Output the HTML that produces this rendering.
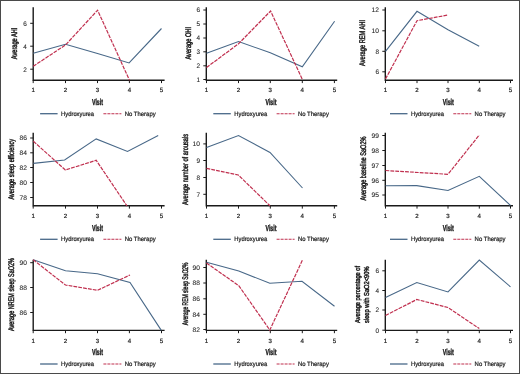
<!DOCTYPE html>
<html><head><meta charset="utf-8"><style>
html,body{margin:0;padding:0;background:#fff;}
body{width:520px;height:374px;overflow:hidden;}
svg{display:block;will-change:transform;}
text{font-family:"Liberation Sans", sans-serif;fill:#222;text-rendering:geometricPrecision;}
</style></head><body>
<svg width="520" height="374" viewBox="0 0 520 374">
<rect x="0" y="0" width="520" height="374" fill="#fff"/>
<path d="M33.2,7.3 V80.3 H164.6" fill="none" stroke="#1a1a1a" stroke-width="1.4"/>
<path d="M30.2,23.3 H33.2" stroke="#1a1a1a" stroke-width="1"/>
<text x="26.9" y="25.6" font-size="6.6" text-anchor="end" font-weight="normal" textLength="3.55" lengthAdjust="spacingAndGlyphs" stroke="#333" stroke-width="0.1">6</text>
<path d="M30.2,46.2 H33.2" stroke="#1a1a1a" stroke-width="1"/>
<text x="26.9" y="48.5" font-size="6.6" text-anchor="end" font-weight="normal" textLength="3.55" lengthAdjust="spacingAndGlyphs" stroke="#333" stroke-width="0.1">4</text>
<path d="M30.2,69.2 H33.2" stroke="#1a1a1a" stroke-width="1"/>
<text x="26.9" y="71.5" font-size="6.6" text-anchor="end" font-weight="normal" textLength="3.55" lengthAdjust="spacingAndGlyphs" stroke="#333" stroke-width="0.1">2</text>
<path d="M33.2,80.3 V83.1" stroke="#1a1a1a" stroke-width="1"/>
<text x="33.2" y="91.9" font-size="6.1" text-anchor="middle" font-weight="normal" stroke="#222" stroke-width="0.2">1</text>
<path d="M65.5,80.3 V83.1" stroke="#1a1a1a" stroke-width="1"/>
<text x="65.5" y="91.9" font-size="6.1" text-anchor="middle" font-weight="normal" stroke="#222" stroke-width="0.2">2</text>
<path d="M97.5,80.3 V83.1" stroke="#1a1a1a" stroke-width="1"/>
<text x="97.5" y="91.9" font-size="6.1" text-anchor="middle" font-weight="normal" stroke="#222" stroke-width="0.2">3</text>
<path d="M129.4,80.3 V83.1" stroke="#1a1a1a" stroke-width="1"/>
<text x="129.4" y="91.9" font-size="6.1" text-anchor="middle" font-weight="normal" stroke="#222" stroke-width="0.2">4</text>
<path d="M161.5,80.3 V83.1" stroke="#1a1a1a" stroke-width="1"/>
<text x="161.5" y="91.9" font-size="6.1" text-anchor="middle" font-weight="normal" stroke="#222" stroke-width="0.2">5</text>
<g transform="translate(17.4,43.4) rotate(-90)"><text x="0" y="0" font-size="8.2" text-anchor="middle" font-weight="normal" textLength="31.5" lengthAdjust="spacingAndGlyphs" stroke="#1a1a1a" stroke-width="0.45">Average AHI</text></g>
<polyline points="33.2,53.3 65.5,44.3 97.5,53.5 129.1,63 161.5,28.5" fill="none" stroke="#486888" stroke-width="1.1" stroke-linejoin="miter"/>
<polyline points="33.2,66.3 65.5,45 97.6,10.2 129.5,80.3" fill="none" stroke="#c0304f" stroke-width="1.2" stroke-dasharray="3.8,1.1"/>
<path d="M206.3,7.3 V80.3 H337.2" fill="none" stroke="#1a1a1a" stroke-width="1.4"/>
<path d="M203.3,10 H206.3" stroke="#1a1a1a" stroke-width="1"/>
<text x="200.0" y="12.3" font-size="6.6" text-anchor="end" font-weight="normal" textLength="3.55" lengthAdjust="spacingAndGlyphs" stroke="#333" stroke-width="0.1">6</text>
<path d="M203.3,24 H206.3" stroke="#1a1a1a" stroke-width="1"/>
<text x="200.0" y="26.3" font-size="6.6" text-anchor="end" font-weight="normal" textLength="3.55" lengthAdjust="spacingAndGlyphs" stroke="#333" stroke-width="0.1">5</text>
<path d="M203.3,38 H206.3" stroke="#1a1a1a" stroke-width="1"/>
<text x="200.0" y="40.3" font-size="6.6" text-anchor="end" font-weight="normal" textLength="3.55" lengthAdjust="spacingAndGlyphs" stroke="#333" stroke-width="0.1">4</text>
<path d="M203.3,51.8 H206.3" stroke="#1a1a1a" stroke-width="1"/>
<text x="200.0" y="54.1" font-size="6.6" text-anchor="end" font-weight="normal" textLength="3.55" lengthAdjust="spacingAndGlyphs" stroke="#333" stroke-width="0.1">3</text>
<path d="M203.3,65.8 H206.3" stroke="#1a1a1a" stroke-width="1"/>
<text x="200.0" y="68.1" font-size="6.6" text-anchor="end" font-weight="normal" textLength="3.55" lengthAdjust="spacingAndGlyphs" stroke="#333" stroke-width="0.1">2</text>
<path d="M203.3,79.5 H206.3" stroke="#1a1a1a" stroke-width="1"/>
<text x="200.0" y="81.8" font-size="6.6" text-anchor="end" font-weight="normal" textLength="3.55" lengthAdjust="spacingAndGlyphs" stroke="#333" stroke-width="0.1">1</text>
<path d="M206.5,80.3 V83.1" stroke="#1a1a1a" stroke-width="1"/>
<text x="206.5" y="91.9" font-size="6.1" text-anchor="middle" font-weight="normal" stroke="#222" stroke-width="0.2">1</text>
<path d="M238.5,80.3 V83.1" stroke="#1a1a1a" stroke-width="1"/>
<text x="238.5" y="91.9" font-size="6.1" text-anchor="middle" font-weight="normal" stroke="#222" stroke-width="0.2">2</text>
<path d="M270.3,80.3 V83.1" stroke="#1a1a1a" stroke-width="1"/>
<text x="270.3" y="91.9" font-size="6.1" text-anchor="middle" font-weight="normal" stroke="#222" stroke-width="0.2">3</text>
<path d="M302.3,80.3 V83.1" stroke="#1a1a1a" stroke-width="1"/>
<text x="302.3" y="91.9" font-size="6.1" text-anchor="middle" font-weight="normal" stroke="#222" stroke-width="0.2">4</text>
<path d="M334.4,80.3 V83.1" stroke="#1a1a1a" stroke-width="1"/>
<text x="334.4" y="91.9" font-size="6.1" text-anchor="middle" font-weight="normal" stroke="#222" stroke-width="0.2">5</text>
<g transform="translate(190.5,43.3) rotate(-90)"><text x="0" y="0" font-size="8.2" text-anchor="middle" font-weight="normal" textLength="32.6" lengthAdjust="spacingAndGlyphs" stroke="#1a1a1a" stroke-width="0.45">Average OHI</text></g>
<polyline points="206.5,53.3 238.5,41.5 270.3,52.8 302.3,66.7 334.6,21.2" fill="none" stroke="#486888" stroke-width="1.1" stroke-linejoin="miter"/>
<polyline points="206.5,67.5 238.5,43.8 270.6,11 302.3,79.3" fill="none" stroke="#c0304f" stroke-width="1.2" stroke-dasharray="3.8,1.1"/>
<path d="M385.3,7.3 V80.3 H513" fill="none" stroke="#1a1a1a" stroke-width="1.4"/>
<path d="M382.3,10 H385.3" stroke="#1a1a1a" stroke-width="1"/>
<text x="379.0" y="12.3" font-size="6.6" text-anchor="end" font-weight="normal" textLength="7.4" lengthAdjust="spacingAndGlyphs" stroke="#333" stroke-width="0.1">12</text>
<path d="M382.3,30.8 H385.3" stroke="#1a1a1a" stroke-width="1"/>
<text x="379.0" y="33.1" font-size="6.6" text-anchor="end" font-weight="normal" textLength="7.4" lengthAdjust="spacingAndGlyphs" stroke="#333" stroke-width="0.1">10</text>
<path d="M382.3,51.3 H385.3" stroke="#1a1a1a" stroke-width="1"/>
<text x="379.0" y="53.6" font-size="6.6" text-anchor="end" font-weight="normal" textLength="3.55" lengthAdjust="spacingAndGlyphs" stroke="#333" stroke-width="0.1">8</text>
<path d="M382.3,71.8 H385.3" stroke="#1a1a1a" stroke-width="1"/>
<text x="379.0" y="74.1" font-size="6.6" text-anchor="end" font-weight="normal" textLength="3.55" lengthAdjust="spacingAndGlyphs" stroke="#333" stroke-width="0.1">6</text>
<path d="M385.5,80.3 V83.1" stroke="#1a1a1a" stroke-width="1"/>
<text x="385.5" y="91.9" font-size="6.1" text-anchor="middle" font-weight="normal" stroke="#222" stroke-width="0.2">1</text>
<path d="M417,80.3 V83.1" stroke="#1a1a1a" stroke-width="1"/>
<text x="417" y="91.9" font-size="6.1" text-anchor="middle" font-weight="normal" stroke="#222" stroke-width="0.2">2</text>
<path d="M448,80.3 V83.1" stroke="#1a1a1a" stroke-width="1"/>
<text x="448" y="91.9" font-size="6.1" text-anchor="middle" font-weight="normal" stroke="#222" stroke-width="0.2">3</text>
<path d="M479.3,80.3 V83.1" stroke="#1a1a1a" stroke-width="1"/>
<text x="479.3" y="91.9" font-size="6.1" text-anchor="middle" font-weight="normal" stroke="#222" stroke-width="0.2">4</text>
<path d="M510.5,80.3 V83.1" stroke="#1a1a1a" stroke-width="1"/>
<text x="510.5" y="91.9" font-size="6.1" text-anchor="middle" font-weight="normal" stroke="#222" stroke-width="0.2">5</text>
<g transform="translate(365.2,43) rotate(-90)"><text x="0" y="0" font-size="8.2" text-anchor="middle" font-weight="normal" textLength="46" lengthAdjust="spacingAndGlyphs" stroke="#1a1a1a" stroke-width="0.45">Average REM AHI</text></g>
<polyline points="385.5,51.3 417,11.3 448,29.8 479.2,46.2" fill="none" stroke="#486888" stroke-width="1.1" stroke-linejoin="miter"/>
<polyline points="385.5,79 417,20.7 448,15" fill="none" stroke="#c0304f" stroke-width="1.2" stroke-dasharray="3.8,1.1"/>
<path d="M33.2,132.7 V205.8 H164.6" fill="none" stroke="#1a1a1a" stroke-width="1.4"/>
<path d="M30.2,138 H33.2" stroke="#1a1a1a" stroke-width="1"/>
<text x="26.9" y="140.3" font-size="6.6" text-anchor="end" font-weight="normal" textLength="7.4" lengthAdjust="spacingAndGlyphs" stroke="#333" stroke-width="0.1">86</text>
<path d="M30.2,152.8 H33.2" stroke="#1a1a1a" stroke-width="1"/>
<text x="26.9" y="155.1" font-size="6.6" text-anchor="end" font-weight="normal" textLength="7.4" lengthAdjust="spacingAndGlyphs" stroke="#333" stroke-width="0.1">84</text>
<path d="M30.2,167.5 H33.2" stroke="#1a1a1a" stroke-width="1"/>
<text x="26.9" y="169.8" font-size="6.6" text-anchor="end" font-weight="normal" textLength="7.4" lengthAdjust="spacingAndGlyphs" stroke="#333" stroke-width="0.1">82</text>
<path d="M30.2,182.5 H33.2" stroke="#1a1a1a" stroke-width="1"/>
<text x="26.9" y="184.8" font-size="6.6" text-anchor="end" font-weight="normal" textLength="7.4" lengthAdjust="spacingAndGlyphs" stroke="#333" stroke-width="0.1">80</text>
<path d="M30.2,197.5 H33.2" stroke="#1a1a1a" stroke-width="1"/>
<text x="26.9" y="199.8" font-size="6.6" text-anchor="end" font-weight="normal" textLength="7.4" lengthAdjust="spacingAndGlyphs" stroke="#333" stroke-width="0.1">78</text>
<path d="M33.2,205.8 V208.6" stroke="#1a1a1a" stroke-width="1"/>
<text x="33.2" y="217.8" font-size="6.1" text-anchor="middle" font-weight="normal" stroke="#222" stroke-width="0.2">1</text>
<path d="M65.5,205.8 V208.6" stroke="#1a1a1a" stroke-width="1"/>
<text x="65.5" y="217.8" font-size="6.1" text-anchor="middle" font-weight="normal" stroke="#222" stroke-width="0.2">2</text>
<path d="M97.5,205.8 V208.6" stroke="#1a1a1a" stroke-width="1"/>
<text x="97.5" y="217.8" font-size="6.1" text-anchor="middle" font-weight="normal" stroke="#222" stroke-width="0.2">3</text>
<path d="M129.4,205.8 V208.6" stroke="#1a1a1a" stroke-width="1"/>
<text x="129.4" y="217.8" font-size="6.1" text-anchor="middle" font-weight="normal" stroke="#222" stroke-width="0.2">4</text>
<path d="M161.5,205.8 V208.6" stroke="#1a1a1a" stroke-width="1"/>
<text x="161.5" y="217.8" font-size="6.1" text-anchor="middle" font-weight="normal" stroke="#222" stroke-width="0.2">5</text>
<g transform="translate(13.8,169.3) rotate(-90)"><text x="0" y="0" font-size="8.2" text-anchor="middle" font-weight="normal" textLength="60.6" lengthAdjust="spacingAndGlyphs" stroke="#1a1a1a" stroke-width="0.45">Average sleep efficiency</text></g>
<polyline points="33.4,163.4 64.6,160 96.2,138.9 127.5,151.5 158.2,135.5" fill="none" stroke="#486888" stroke-width="1.1" stroke-linejoin="miter"/>
<polyline points="33.4,141.3 65.4,170 96.2,160.3 126.9,205.8" fill="none" stroke="#c0304f" stroke-width="1.2" stroke-dasharray="3.8,1.1"/>
<path d="M206.3,132.7 V205.8 H337.2" fill="none" stroke="#1a1a1a" stroke-width="1.4"/>
<path d="M203.3,143.9 H206.3" stroke="#1a1a1a" stroke-width="1"/>
<text x="200.0" y="146.2" font-size="6.6" text-anchor="end" font-weight="normal" textLength="7.4" lengthAdjust="spacingAndGlyphs" stroke="#333" stroke-width="0.1">10</text>
<path d="M203.3,160.5 H206.3" stroke="#1a1a1a" stroke-width="1"/>
<text x="200.0" y="162.8" font-size="6.6" text-anchor="end" font-weight="normal" textLength="3.55" lengthAdjust="spacingAndGlyphs" stroke="#333" stroke-width="0.1">9</text>
<path d="M203.3,177.5 H206.3" stroke="#1a1a1a" stroke-width="1"/>
<text x="200.0" y="179.8" font-size="6.6" text-anchor="end" font-weight="normal" textLength="3.55" lengthAdjust="spacingAndGlyphs" stroke="#333" stroke-width="0.1">8</text>
<path d="M203.3,194.3 H206.3" stroke="#1a1a1a" stroke-width="1"/>
<text x="200.0" y="196.6" font-size="6.6" text-anchor="end" font-weight="normal" textLength="3.55" lengthAdjust="spacingAndGlyphs" stroke="#333" stroke-width="0.1">7</text>
<path d="M206.5,205.8 V208.6" stroke="#1a1a1a" stroke-width="1"/>
<text x="206.5" y="217.8" font-size="6.1" text-anchor="middle" font-weight="normal" stroke="#222" stroke-width="0.2">1</text>
<path d="M238.5,205.8 V208.6" stroke="#1a1a1a" stroke-width="1"/>
<text x="238.5" y="217.8" font-size="6.1" text-anchor="middle" font-weight="normal" stroke="#222" stroke-width="0.2">2</text>
<path d="M270.3,205.8 V208.6" stroke="#1a1a1a" stroke-width="1"/>
<text x="270.3" y="217.8" font-size="6.1" text-anchor="middle" font-weight="normal" stroke="#222" stroke-width="0.2">3</text>
<path d="M302.3,205.8 V208.6" stroke="#1a1a1a" stroke-width="1"/>
<text x="302.3" y="217.8" font-size="6.1" text-anchor="middle" font-weight="normal" stroke="#222" stroke-width="0.2">4</text>
<path d="M334.4,205.8 V208.6" stroke="#1a1a1a" stroke-width="1"/>
<text x="334.4" y="217.8" font-size="6.1" text-anchor="middle" font-weight="normal" stroke="#222" stroke-width="0.2">5</text>
<g transform="translate(188.3,169.4) rotate(-90)"><text x="0" y="0" font-size="8.2" text-anchor="middle" font-weight="normal" textLength="71" lengthAdjust="spacingAndGlyphs" stroke="#1a1a1a" stroke-width="0.45">Average number of arousals</text></g>
<polyline points="206.5,147.5 238.5,135.5 270,152.5 302.5,188" fill="none" stroke="#486888" stroke-width="1.1" stroke-linejoin="miter"/>
<polyline points="206.5,168.3 238.3,175 270,205.8" fill="none" stroke="#c0304f" stroke-width="1.2" stroke-dasharray="3.8,1.1"/>
<path d="M385.3,132.7 V205.8 H513" fill="none" stroke="#1a1a1a" stroke-width="1.4"/>
<path d="M382.3,135.5 H385.3" stroke="#1a1a1a" stroke-width="1"/>
<text x="379.0" y="137.8" font-size="6.6" text-anchor="end" font-weight="normal" textLength="7.4" lengthAdjust="spacingAndGlyphs" stroke="#333" stroke-width="0.1">99</text>
<path d="M382.3,150.5 H385.3" stroke="#1a1a1a" stroke-width="1"/>
<text x="379.0" y="152.8" font-size="6.6" text-anchor="end" font-weight="normal" textLength="7.4" lengthAdjust="spacingAndGlyphs" stroke="#333" stroke-width="0.1">98</text>
<path d="M382.3,165.5 H385.3" stroke="#1a1a1a" stroke-width="1"/>
<text x="379.0" y="167.8" font-size="6.6" text-anchor="end" font-weight="normal" textLength="7.4" lengthAdjust="spacingAndGlyphs" stroke="#333" stroke-width="0.1">97</text>
<path d="M382.3,180.3 H385.3" stroke="#1a1a1a" stroke-width="1"/>
<text x="379.0" y="182.6" font-size="6.6" text-anchor="end" font-weight="normal" textLength="7.4" lengthAdjust="spacingAndGlyphs" stroke="#333" stroke-width="0.1">96</text>
<path d="M382.3,195 H385.3" stroke="#1a1a1a" stroke-width="1"/>
<text x="379.0" y="197.3" font-size="6.6" text-anchor="end" font-weight="normal" textLength="7.4" lengthAdjust="spacingAndGlyphs" stroke="#333" stroke-width="0.1">95</text>
<path d="M385.5,205.8 V208.6" stroke="#1a1a1a" stroke-width="1"/>
<text x="385.5" y="217.8" font-size="6.1" text-anchor="middle" font-weight="normal" stroke="#222" stroke-width="0.2">1</text>
<path d="M417,205.8 V208.6" stroke="#1a1a1a" stroke-width="1"/>
<text x="417" y="217.8" font-size="6.1" text-anchor="middle" font-weight="normal" stroke="#222" stroke-width="0.2">2</text>
<path d="M448,205.8 V208.6" stroke="#1a1a1a" stroke-width="1"/>
<text x="448" y="217.8" font-size="6.1" text-anchor="middle" font-weight="normal" stroke="#222" stroke-width="0.2">3</text>
<path d="M479.3,205.8 V208.6" stroke="#1a1a1a" stroke-width="1"/>
<text x="479.3" y="217.8" font-size="6.1" text-anchor="middle" font-weight="normal" stroke="#222" stroke-width="0.2">4</text>
<path d="M510.5,205.8 V208.6" stroke="#1a1a1a" stroke-width="1"/>
<text x="510.5" y="217.8" font-size="6.1" text-anchor="middle" font-weight="normal" stroke="#222" stroke-width="0.2">5</text>
<g transform="translate(366.1,168.5) rotate(-90)"><text x="0" y="0" font-size="8.2" text-anchor="middle" font-weight="normal" textLength="64" lengthAdjust="spacingAndGlyphs" stroke="#1a1a1a" stroke-width="0.45">Average baseline SaO2%</text></g>
<polyline points="385.5,185.7 416.8,185.6 448,190.5 479.3,176.3 510.5,205.5" fill="none" stroke="#486888" stroke-width="1.1" stroke-linejoin="miter"/>
<polyline points="385.5,170.5 448,174.3 479.3,135" fill="none" stroke="#c0304f" stroke-width="1.2" stroke-dasharray="3.8,1.1"/>
<path d="M33.2,259.7 V330.4 H164.6" fill="none" stroke="#1a1a1a" stroke-width="1.4"/>
<path d="M30.2,262.7 H33.2" stroke="#1a1a1a" stroke-width="1"/>
<text x="26.9" y="265.0" font-size="6.6" text-anchor="end" font-weight="normal" textLength="7.4" lengthAdjust="spacingAndGlyphs" stroke="#333" stroke-width="0.1">90</text>
<path d="M30.2,287.5 H33.2" stroke="#1a1a1a" stroke-width="1"/>
<text x="26.9" y="289.8" font-size="6.6" text-anchor="end" font-weight="normal" textLength="7.4" lengthAdjust="spacingAndGlyphs" stroke="#333" stroke-width="0.1">88</text>
<path d="M30.2,312.5 H33.2" stroke="#1a1a1a" stroke-width="1"/>
<text x="26.9" y="314.8" font-size="6.6" text-anchor="end" font-weight="normal" textLength="7.4" lengthAdjust="spacingAndGlyphs" stroke="#333" stroke-width="0.1">86</text>
<path d="M33.2,330.4 V333.2" stroke="#1a1a1a" stroke-width="1"/>
<text x="33.2" y="342.5" font-size="6.1" text-anchor="middle" font-weight="normal" stroke="#222" stroke-width="0.2">1</text>
<path d="M65.5,330.4 V333.2" stroke="#1a1a1a" stroke-width="1"/>
<text x="65.5" y="342.5" font-size="6.1" text-anchor="middle" font-weight="normal" stroke="#222" stroke-width="0.2">2</text>
<path d="M97.5,330.4 V333.2" stroke="#1a1a1a" stroke-width="1"/>
<text x="97.5" y="342.5" font-size="6.1" text-anchor="middle" font-weight="normal" stroke="#222" stroke-width="0.2">3</text>
<path d="M129.4,330.4 V333.2" stroke="#1a1a1a" stroke-width="1"/>
<text x="129.4" y="342.5" font-size="6.1" text-anchor="middle" font-weight="normal" stroke="#222" stroke-width="0.2">4</text>
<path d="M161.5,330.4 V333.2" stroke="#1a1a1a" stroke-width="1"/>
<text x="161.5" y="342.5" font-size="6.1" text-anchor="middle" font-weight="normal" stroke="#222" stroke-width="0.2">5</text>
<g transform="translate(13.6,294.6) rotate(-90)"><text x="0" y="0" font-size="8.2" text-anchor="middle" font-weight="normal" textLength="73" lengthAdjust="spacingAndGlyphs" stroke="#1a1a1a" stroke-width="0.45">Average NREM sleep SaO2%</text></g>
<polyline points="33.2,259.8 65.5,270.8 97.5,273.8 130,282.5 161.3,330.4" fill="none" stroke="#486888" stroke-width="1.1" stroke-linejoin="miter"/>
<polyline points="33.2,259.8 65.5,285 97.5,290.3 130,275" fill="none" stroke="#c0304f" stroke-width="1.2" stroke-dasharray="3.8,1.1"/>
<path d="M206.3,259.7 V330.4 H337.2" fill="none" stroke="#1a1a1a" stroke-width="1.4"/>
<path d="M203.3,267.5 H206.3" stroke="#1a1a1a" stroke-width="1"/>
<text x="200.0" y="269.8" font-size="6.6" text-anchor="end" font-weight="normal" textLength="7.4" lengthAdjust="spacingAndGlyphs" stroke="#333" stroke-width="0.1">90</text>
<path d="M203.3,283 H206.3" stroke="#1a1a1a" stroke-width="1"/>
<text x="200.0" y="285.3" font-size="6.6" text-anchor="end" font-weight="normal" textLength="7.4" lengthAdjust="spacingAndGlyphs" stroke="#333" stroke-width="0.1">88</text>
<path d="M203.3,298.8 H206.3" stroke="#1a1a1a" stroke-width="1"/>
<text x="200.0" y="301.1" font-size="6.6" text-anchor="end" font-weight="normal" textLength="7.4" lengthAdjust="spacingAndGlyphs" stroke="#333" stroke-width="0.1">86</text>
<path d="M203.3,314.3 H206.3" stroke="#1a1a1a" stroke-width="1"/>
<text x="200.0" y="316.6" font-size="6.6" text-anchor="end" font-weight="normal" textLength="7.4" lengthAdjust="spacingAndGlyphs" stroke="#333" stroke-width="0.1">84</text>
<path d="M203.3,329.5 H206.3" stroke="#1a1a1a" stroke-width="1"/>
<text x="200.0" y="331.8" font-size="6.6" text-anchor="end" font-weight="normal" textLength="7.4" lengthAdjust="spacingAndGlyphs" stroke="#333" stroke-width="0.1">82</text>
<path d="M206.5,330.4 V333.2" stroke="#1a1a1a" stroke-width="1"/>
<text x="206.5" y="342.5" font-size="6.1" text-anchor="middle" font-weight="normal" stroke="#222" stroke-width="0.2">1</text>
<path d="M238.5,330.4 V333.2" stroke="#1a1a1a" stroke-width="1"/>
<text x="238.5" y="342.5" font-size="6.1" text-anchor="middle" font-weight="normal" stroke="#222" stroke-width="0.2">2</text>
<path d="M270.3,330.4 V333.2" stroke="#1a1a1a" stroke-width="1"/>
<text x="270.3" y="342.5" font-size="6.1" text-anchor="middle" font-weight="normal" stroke="#222" stroke-width="0.2">3</text>
<path d="M302.3,330.4 V333.2" stroke="#1a1a1a" stroke-width="1"/>
<text x="302.3" y="342.5" font-size="6.1" text-anchor="middle" font-weight="normal" stroke="#222" stroke-width="0.2">4</text>
<path d="M334.4,330.4 V333.2" stroke="#1a1a1a" stroke-width="1"/>
<text x="334.4" y="342.5" font-size="6.1" text-anchor="middle" font-weight="normal" stroke="#222" stroke-width="0.2">5</text>
<g transform="translate(187.8,293.9) rotate(-90)"><text x="0" y="0" font-size="8.2" text-anchor="middle" font-weight="normal" textLength="62.7" lengthAdjust="spacingAndGlyphs" stroke="#1a1a1a" stroke-width="0.45">Average REM sleep SaO2%</text></g>
<polyline points="206.5,262.2 238.8,271 269.8,283.3 302,281.3 334.5,306.3" fill="none" stroke="#486888" stroke-width="1.1" stroke-linejoin="miter"/>
<polyline points="206.5,263 238.8,285.7 269.8,330 302.5,260" fill="none" stroke="#c0304f" stroke-width="1.2" stroke-dasharray="3.8,1.1"/>
<path d="M385.3,259.7 V330.4 H513" fill="none" stroke="#1a1a1a" stroke-width="1.4"/>
<path d="M382.3,330.2 H385.3" stroke="#1a1a1a" stroke-width="1"/>
<text x="379.0" y="332.5" font-size="6.6" text-anchor="end" font-weight="normal" textLength="3.55" lengthAdjust="spacingAndGlyphs" stroke="#333" stroke-width="0.1">0</text>
<path d="M382.3,270.8 H385.3" stroke="#1a1a1a" stroke-width="1"/>
<text x="379.0" y="273.1" font-size="6.6" text-anchor="end" font-weight="normal" textLength="3.55" lengthAdjust="spacingAndGlyphs" stroke="#333" stroke-width="0.1">6</text>
<path d="M382.3,290.5 H385.3" stroke="#1a1a1a" stroke-width="1"/>
<text x="379.0" y="292.8" font-size="6.6" text-anchor="end" font-weight="normal" textLength="3.55" lengthAdjust="spacingAndGlyphs" stroke="#333" stroke-width="0.1">4</text>
<path d="M382.3,310 H385.3" stroke="#1a1a1a" stroke-width="1"/>
<text x="379.0" y="312.3" font-size="6.6" text-anchor="end" font-weight="normal" textLength="3.55" lengthAdjust="spacingAndGlyphs" stroke="#333" stroke-width="0.1">2</text>
<path d="M385.5,330.4 V333.2" stroke="#1a1a1a" stroke-width="1"/>
<text x="385.5" y="342.5" font-size="6.1" text-anchor="middle" font-weight="normal" stroke="#222" stroke-width="0.2">1</text>
<path d="M417,330.4 V333.2" stroke="#1a1a1a" stroke-width="1"/>
<text x="417" y="342.5" font-size="6.1" text-anchor="middle" font-weight="normal" stroke="#222" stroke-width="0.2">2</text>
<path d="M448,330.4 V333.2" stroke="#1a1a1a" stroke-width="1"/>
<text x="448" y="342.5" font-size="6.1" text-anchor="middle" font-weight="normal" stroke="#222" stroke-width="0.2">3</text>
<path d="M479.3,330.4 V333.2" stroke="#1a1a1a" stroke-width="1"/>
<text x="479.3" y="342.5" font-size="6.1" text-anchor="middle" font-weight="normal" stroke="#222" stroke-width="0.2">4</text>
<path d="M510.5,330.4 V333.2" stroke="#1a1a1a" stroke-width="1"/>
<text x="510.5" y="342.5" font-size="6.1" text-anchor="middle" font-weight="normal" stroke="#222" stroke-width="0.2">5</text>
<g transform="translate(360,294.5) rotate(-90)"><text x="0" y="0" font-size="7.2" text-anchor="middle" font-weight="normal" textLength="57" lengthAdjust="spacingAndGlyphs" stroke="#1a1a1a" stroke-width="0.45">Average percentage of</text></g>
<g transform="translate(368.7,294.7) rotate(-90)"><text x="0" y="0" font-size="7.2" text-anchor="middle" font-weight="normal" textLength="56.6" lengthAdjust="spacingAndGlyphs" stroke="#1a1a1a" stroke-width="0.45">sleep with SaO2&lt;90%</text></g>
<polyline points="385.5,297.5 416.8,282.5 448,292 479.3,260 510.5,286.8" fill="none" stroke="#486888" stroke-width="1.1" stroke-linejoin="miter"/>
<polyline points="385.5,315.5 416.8,299.5 448,307.5 479.3,328.6" fill="none" stroke="#c0304f" stroke-width="1.2" stroke-dasharray="3.8,1.1"/>
<text x="97.5" y="104.8" font-size="8.6" text-anchor="middle" font-weight="bold" textLength="11.1" lengthAdjust="spacingAndGlyphs" stroke="#1a1a1a" stroke-width="0.4">Visit</text>
<path d="M40.1,113.7 H57.6" stroke="#486888" stroke-width="1.3"/>
<text x="61.1" y="115.8" font-size="6.3" text-anchor="start" font-weight="normal" textLength="33" lengthAdjust="spacingAndGlyphs" stroke="#222" stroke-width="0.22">Hydroxyurea</text>
<path d="M103.4,113.7 H121.4" stroke="#c0304f" stroke-width="1.1" stroke-dasharray="3,1"/>
<text x="124.7" y="115.8" font-size="6.3" text-anchor="start" font-weight="normal" textLength="31" lengthAdjust="spacingAndGlyphs" stroke="#222" stroke-width="0.22">No Therapy</text>
<text x="271" y="104.8" font-size="8.6" text-anchor="middle" font-weight="bold" textLength="11.1" lengthAdjust="spacingAndGlyphs" stroke="#1a1a1a" stroke-width="0.4">Visit</text>
<path d="M213.3,113.7 H230.8" stroke="#486888" stroke-width="1.3"/>
<text x="234.3" y="115.8" font-size="6.3" text-anchor="start" font-weight="normal" textLength="33" lengthAdjust="spacingAndGlyphs" stroke="#222" stroke-width="0.22">Hydroxyurea</text>
<path d="M276.6,113.7 H294.6" stroke="#c0304f" stroke-width="1.1" stroke-dasharray="3,1"/>
<text x="297.9" y="115.8" font-size="6.3" text-anchor="start" font-weight="normal" textLength="31" lengthAdjust="spacingAndGlyphs" stroke="#222" stroke-width="0.22">No Therapy</text>
<text x="448.3" y="104.8" font-size="8.6" text-anchor="middle" font-weight="bold" textLength="11.1" lengthAdjust="spacingAndGlyphs" stroke="#1a1a1a" stroke-width="0.4">Visit</text>
<path d="M390,113.7 H407.5" stroke="#486888" stroke-width="1.3"/>
<text x="411" y="115.8" font-size="6.3" text-anchor="start" font-weight="normal" textLength="33" lengthAdjust="spacingAndGlyphs" stroke="#222" stroke-width="0.22">Hydroxyurea</text>
<path d="M453.3,113.7 H471.3" stroke="#c0304f" stroke-width="1.1" stroke-dasharray="3,1"/>
<text x="474.6" y="115.8" font-size="6.3" text-anchor="start" font-weight="normal" textLength="31" lengthAdjust="spacingAndGlyphs" stroke="#222" stroke-width="0.22">No Therapy</text>
<text x="97.5" y="230.5" font-size="8.6" text-anchor="middle" font-weight="bold" textLength="11.1" lengthAdjust="spacingAndGlyphs" stroke="#1a1a1a" stroke-width="0.4">Visit</text>
<path d="M40.1,239.3 H57.6" stroke="#486888" stroke-width="1.3"/>
<text x="61.1" y="241.4" font-size="6.3" text-anchor="start" font-weight="normal" textLength="33" lengthAdjust="spacingAndGlyphs" stroke="#222" stroke-width="0.22">Hydroxyurea</text>
<path d="M103.4,239.3 H121.4" stroke="#c0304f" stroke-width="1.1" stroke-dasharray="3,1"/>
<text x="124.7" y="241.4" font-size="6.3" text-anchor="start" font-weight="normal" textLength="31" lengthAdjust="spacingAndGlyphs" stroke="#222" stroke-width="0.22">No Therapy</text>
<text x="271" y="230.5" font-size="8.6" text-anchor="middle" font-weight="bold" textLength="11.1" lengthAdjust="spacingAndGlyphs" stroke="#1a1a1a" stroke-width="0.4">Visit</text>
<path d="M213.3,239.3 H230.8" stroke="#486888" stroke-width="1.3"/>
<text x="234.3" y="241.4" font-size="6.3" text-anchor="start" font-weight="normal" textLength="33" lengthAdjust="spacingAndGlyphs" stroke="#222" stroke-width="0.22">Hydroxyurea</text>
<path d="M276.6,239.3 H294.6" stroke="#c0304f" stroke-width="1.1" stroke-dasharray="3,1"/>
<text x="297.9" y="241.4" font-size="6.3" text-anchor="start" font-weight="normal" textLength="31" lengthAdjust="spacingAndGlyphs" stroke="#222" stroke-width="0.22">No Therapy</text>
<text x="448.3" y="230.5" font-size="8.6" text-anchor="middle" font-weight="bold" textLength="11.1" lengthAdjust="spacingAndGlyphs" stroke="#1a1a1a" stroke-width="0.4">Visit</text>
<path d="M390,239.3 H407.5" stroke="#486888" stroke-width="1.3"/>
<text x="411" y="241.4" font-size="6.3" text-anchor="start" font-weight="normal" textLength="33" lengthAdjust="spacingAndGlyphs" stroke="#222" stroke-width="0.22">Hydroxyurea</text>
<path d="M453.3,239.3 H471.3" stroke="#c0304f" stroke-width="1.1" stroke-dasharray="3,1"/>
<text x="474.6" y="241.4" font-size="6.3" text-anchor="start" font-weight="normal" textLength="31" lengthAdjust="spacingAndGlyphs" stroke="#222" stroke-width="0.22">No Therapy</text>
<text x="97.5" y="354.6" font-size="8.6" text-anchor="middle" font-weight="bold" textLength="11.1" lengthAdjust="spacingAndGlyphs" stroke="#1a1a1a" stroke-width="0.4">Visit</text>
<path d="M40.1,364 H57.6" stroke="#486888" stroke-width="1.3"/>
<text x="61.1" y="366.1" font-size="6.3" text-anchor="start" font-weight="normal" textLength="33" lengthAdjust="spacingAndGlyphs" stroke="#222" stroke-width="0.22">Hydroxyurea</text>
<path d="M103.4,364 H121.4" stroke="#c0304f" stroke-width="1.1" stroke-dasharray="3,1"/>
<text x="124.7" y="366.1" font-size="6.3" text-anchor="start" font-weight="normal" textLength="31" lengthAdjust="spacingAndGlyphs" stroke="#222" stroke-width="0.22">No Therapy</text>
<text x="271" y="354.6" font-size="8.6" text-anchor="middle" font-weight="bold" textLength="11.1" lengthAdjust="spacingAndGlyphs" stroke="#1a1a1a" stroke-width="0.4">Visit</text>
<path d="M213.3,364 H230.8" stroke="#486888" stroke-width="1.3"/>
<text x="234.3" y="366.1" font-size="6.3" text-anchor="start" font-weight="normal" textLength="33" lengthAdjust="spacingAndGlyphs" stroke="#222" stroke-width="0.22">Hydroxyurea</text>
<path d="M276.6,364 H294.6" stroke="#c0304f" stroke-width="1.1" stroke-dasharray="3,1"/>
<text x="297.9" y="366.1" font-size="6.3" text-anchor="start" font-weight="normal" textLength="31" lengthAdjust="spacingAndGlyphs" stroke="#222" stroke-width="0.22">No Therapy</text>
<text x="448.3" y="354.6" font-size="8.6" text-anchor="middle" font-weight="bold" textLength="11.1" lengthAdjust="spacingAndGlyphs" stroke="#1a1a1a" stroke-width="0.4">Visit</text>
<path d="M390,364 H407.5" stroke="#486888" stroke-width="1.3"/>
<text x="411" y="366.1" font-size="6.3" text-anchor="start" font-weight="normal" textLength="33" lengthAdjust="spacingAndGlyphs" stroke="#222" stroke-width="0.22">Hydroxyurea</text>
<path d="M453.3,364 H471.3" stroke="#c0304f" stroke-width="1.1" stroke-dasharray="3,1"/>
<text x="474.6" y="366.1" font-size="6.3" text-anchor="start" font-weight="normal" textLength="31" lengthAdjust="spacingAndGlyphs" stroke="#222" stroke-width="0.22">No Therapy</text>
<rect x="0.5" y="0.5" width="519" height="373" fill="none" stroke="#4a4a4a" stroke-width="1"/>
</svg>
</body></html>
